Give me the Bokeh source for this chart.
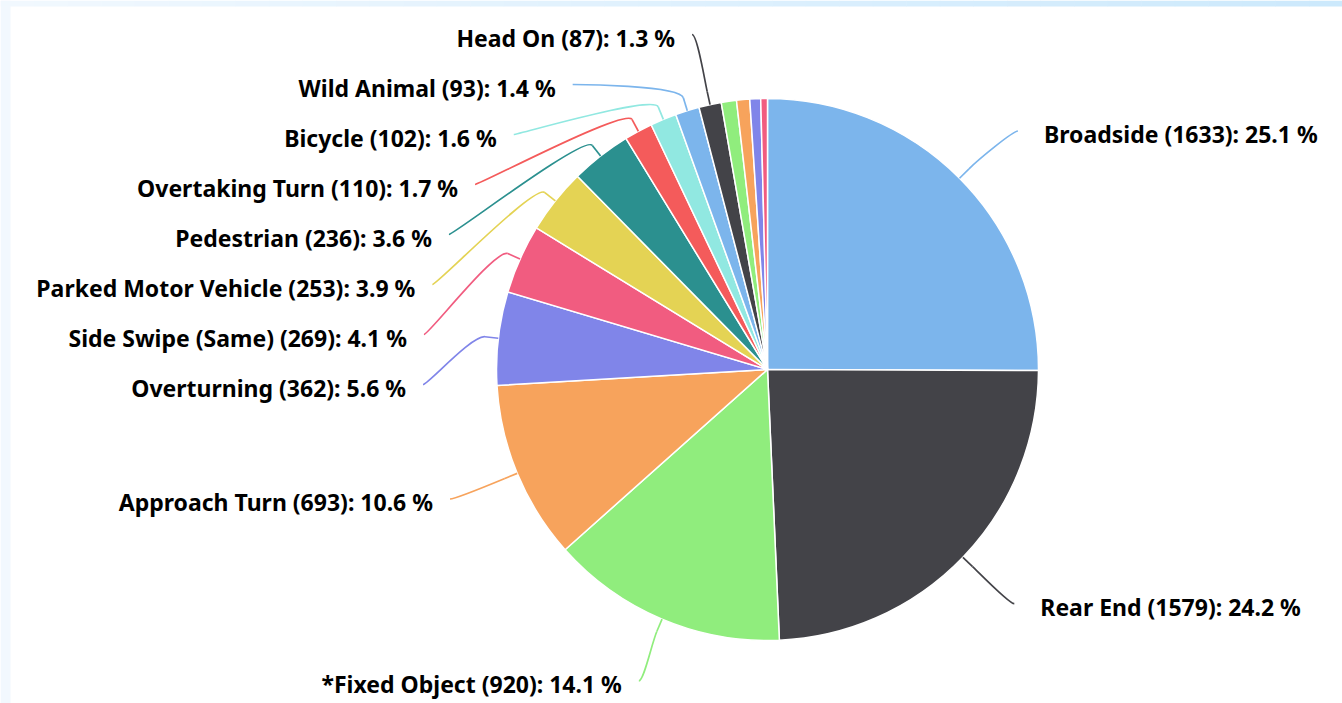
import math
from bokeh.plotting import figure
from bokeh.models import Range1d, ColumnDataSource
from bokeh.embed import file_html
from bokeh.resources import INLINE
from bokeh.core.properties import value

# ---------------- data ----------------
categories = ["Broadside", "Rear End", "*Fixed Object", "Approach Turn", "Overturning",
              "Side Swipe (Same)", "Parked Motor Vehicle", "Pedestrian", "Overtaking Turn",
              "Bicycle", "Wild Animal", "Head On", "Other", "Not Stated",
              "Side Swipe (Opposite)", "Hit Object"]
counts = [1633, 1579, 920, 693, 362, 269, 253, 236, 110, 102, 93, 87, 59, 51, 42, 26]
colors = ["#7cb5ec", "#434348", "#90ed7d", "#f7a35c", "#8085e9", "#f15c80", "#e4d354",
          "#2b908f", "#f45b5b", "#91e8e1", "#7cb5ec", "#434348", "#90ed7d", "#f7a35c",
          "#8085e9", "#f15c80"]
label_min_count = 80  # smaller slices have their labels hidden (as in the reference)

# ---------------- layout ----------------
W, H = 1342, 703
CX, CY = 767, 369          # pie centre (screen px, y down)
R = 271                    # pie radius
D = 67                     # label distance
SPACING = 50
LABEL_TOP, LABEL_BOTTOM = 38, 690
FONT = "Noto Sans"
FONT_SIZE = "23px"

def Y(y):
    return H - y

total = float(sum(counts))
th0, th1, mids = [], [], []
acc = 0.0
for c in counts:
    a0 = acc / total * 2 * math.pi
    acc += c
    a1 = acc / total * 2 * math.pi
    th0.append(a0); th1.append(a1); mids.append((a0 + a1) / 2)

def distribute(targets, size, lo, hi):
    n = len(targets)
    clusters = [[i] for i in range(n)]
    def place(cl):
        m = sum(targets[i] for i in cl) / len(cl)
        s = m - size * (len(cl) - 1) / 2
        return max(lo, min(s, hi - size * (len(cl) - 1)))
    changed = True
    while changed:
        changed = False
        starts = [place(cl) for cl in clusters]
        for k in range(len(clusters) - 1):
            end_k = starts[k] + size * (len(clusters[k]) - 1)
            if starts[k + 1] - end_k < size:
                clusters[k] = clusters[k] + clusters[k + 1]
                del clusters[k + 1]
                changed = True
                break
    pos = [0.0] * n
    for cl in clusters:
        s = place(cl)
        for j, i in enumerate(cl):
            pos[i] = s + j * size
    return pos

p = figure(width=W, height=H, x_range=Range1d(0, W), y_range=Range1d(0, H),
           output_backend="svg", toolbar_location=None, min_border=0,
           x_axis_type=None, y_axis_type=None)
p.outline_line_color = None
p.background_fill_color = "white"
p.border_fill_color = "white"
p.xgrid.grid_line_color = None
p.ygrid.grid_line_color = None

# page frame strips (decoration)
p.quad(left=[0], right=[10], bottom=[0], top=[H], fill_color="#f2f8fe", line_color=None)
nseg = 40
c0 = (0xf1, 0xf8, 0xfe); c1 = (0xcc, 0xe9, 0xfc)
qs = dict(left=[], right=[], bottom=[], top=[], color=[])
for i in range(nseg):
    t = i / (nseg - 1)
    col = "#%02x%02x%02x" % tuple(int(round(c0[k] + (c1[k] - c0[k]) * t)) for k in range(3))
    qs["left"].append(W * i / nseg); qs["right"].append(W * (i + 1) / nseg + 0.5)
    qs["bottom"].append(Y(6)); qs["top"].append(H); qs["color"].append(col)
p.quad(left="left", right="right", bottom="bottom", top="top", fill_color="color",
       line_color=None, source=ColumnDataSource(qs))

# pie slices
src = ColumnDataSource(dict(
    start=[math.pi / 2 - b for b in th1],
    end=[math.pi / 2 - a for a in th0],
    color=colors))
p.wedge(x=CX, y=Y(CY), radius=R, start_angle="start", end_angle="end",
        fill_color="color", line_color="white", line_width=1.5, source=src)

# labels
shown = [i for i in range(len(counts)) if counts[i] >= label_min_count]
sides = {True: [], False: []}
for i in shown:
    sides[mids[i] > math.pi].append(i)

label_y = {}
for left, idxs in sides.items():
    idxs.sort(key=lambda i: CY - (R + D) * math.cos(mids[i]))
    targets = [CY - (R + D) * math.cos(mids[i]) + 4 for i in idxs]
    pos = distribute(targets, SPACING, LABEL_TOP, LABEL_BOTTOM)
    for i, y in zip(idxs, pos):
        label_y[i] = y

bz = dict(x0=[], y0=[], x1=[], y1=[], cx0=[], cy0=[], cx1=[], cy1=[], color=[])
sg = dict(x0=[], y0=[], x1=[], y1=[], color=[])
txt = {True: dict(x=[], y=[], text=[]), False: dict(x=[], y=[], text=[])}
for i in shown:
    m = mids[i]
    left = m > math.pi
    sgn = -1 if left else 1
    ty = label_y[i]
    ay = ty - 4
    dy = ty - CY
    ax = CX + sgn * (math.sqrt(max((R + D) ** 2 - dy * dy, 0)) + 7)
    tx_, ty_ = CX + R * math.sin(m), CY - R * math.cos(m)
    bx, by = CX + (R + D / 5) * math.sin(m), CY - (R + D / 5) * math.cos(m)
    bz["x0"].append(ax); bz["y0"].append(Y(ay))
    bz["x1"].append(bx); bz["y1"].append(Y(by))
    bz["cx0"].append(ax + (5 if left else -5)); bz["cy0"].append(Y(ay))
    bz["cx1"].append(2 * bx - tx_); bz["cy1"].append(Y(2 * by - ty_))
    bz["color"].append(colors[i])
    sg["x0"].append(bx); sg["y0"].append(Y(by)); sg["x1"].append(tx_); sg["y1"].append(Y(ty_))
    sg["color"].append(colors[i])
    pct = counts[i] / total * 100
    t = txt[left]
    t["x"].append(ax - 17 if left else ax + 26)
    t["y"].append(Y(ty - 1))
    t["text"].append("%s (%d): %.1f %%" % (categories[i], counts[i], pct))

p.bezier(x0="x0", y0="y0", x1="x1", y1="y1", cx0="cx0", cy0="cy0", cx1="cx1", cy1="cy1",
         line_color="color", line_width=1.7, source=ColumnDataSource(bz))
p.segment(x0="x0", y0="y0", x1="x1", y1="y1", line_color="color", line_width=1.7,
          source=ColumnDataSource(sg))

for left, align in ((True, "right"), (False, "left")):
    p.text(x="x", y="y", text="text", source=ColumnDataSource(txt[left]),
           text_align=align, text_baseline="middle", text_font=value(FONT),
           text_font_style="bold", text_font_size=FONT_SIZE, text_color="#000000")

open("out.html", "w").write(file_html(p, INLINE))
